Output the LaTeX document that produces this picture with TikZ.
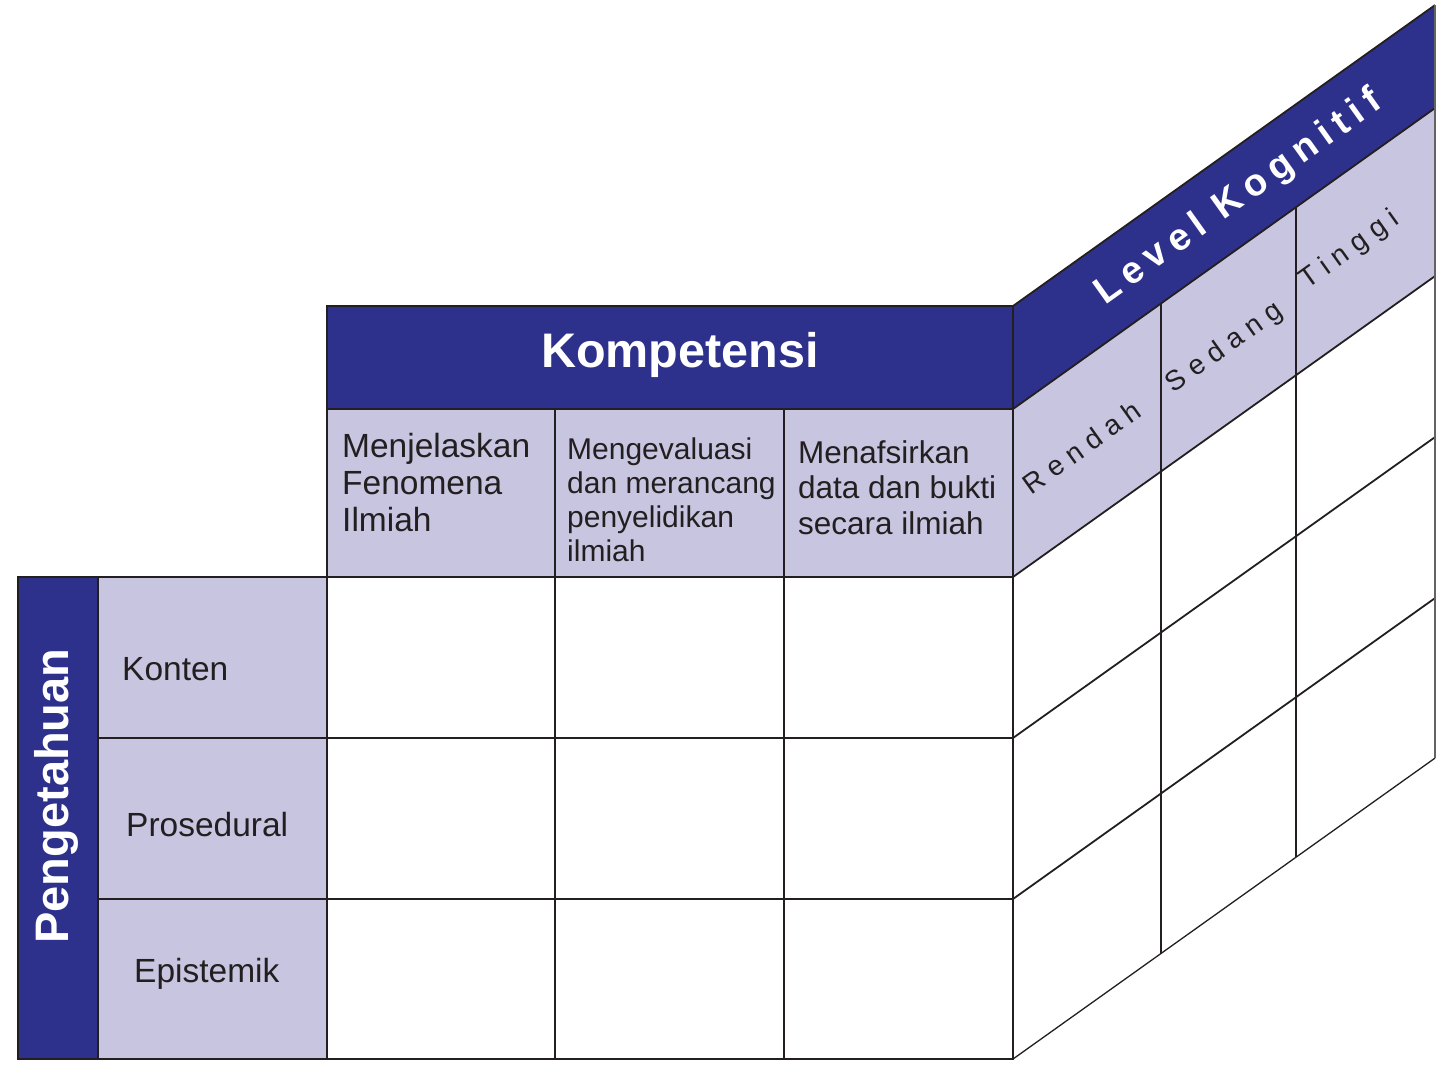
\documentclass[tikz,border=0pt]{standalone}
\usepackage{fontspec}
\setmainfont{Liberation Sans}
\newfontfamily\wideface[LetterSpace=20]{Liberation Sans}
\newfontfamily\wideslim[LetterSpace=28]{Liberation Sans}
\definecolor{navy}{RGB}{45,49,139}
\definecolor{lav}{RGB}{199,197,224}
\definecolor{ink}{RGB}{35,31,32}
\tikzset{
  grid/.style={draw=ink, line width=1.8pt},
  title/.style={text=white, font=\fontsize{48.5}{52}\selectfont\bfseries, inner sep=0pt},
  side/.style={text=white, font=\fontsize{47}{50}\selectfont\bfseries, inner sep=0pt, rotate=90},
  % multi-line headers are placed by the baseline of their last line
  colA/.style={anchor=base west, align=left, inner sep=0pt, text=ink, font=\fontsize{33.5}{37}\selectfont},
  colB/.style={anchor=base west, align=left, inner sep=0pt, text=ink, font=\fontsize{30}{34}\selectfont},
  colC/.style={anchor=base west, align=left, inner sep=0pt, text=ink, font=\fontsize{31.5}{35.5}\selectfont},
  rowlab/.style={anchor=base west, inner sep=0pt, text=ink, font=\fontsize{33.5}{37}\selectfont},
  levtitle/.style={text=white, inner sep=0pt, rotate=35.5, font=\fontsize{38}{40}\selectfont\wideface\bfseries},
  levlab/.style={text=ink, inner sep=0pt, rotate=35.5, font=\fontsize{28}{30}\selectfont\wideslim},
}
\begin{document}
\begin{tikzpicture}[x=1pt, y=-1pt]
\useasboundingbox (0,0) rectangle (1452,1082);

% front face: header bands
\fill[navy] (327,306) rectangle (1013,409);
\fill[lav] (327,409) rectangle (1013,577);
% left side: knowledge bar and row labels
\fill[navy] (18,577) rectangle (98,1059);
\fill[lav] (98,577) rectangle (327,1059);

% oblique side face
\fill[navy] (1013,306) -- (1435,5.1) -- (1435,108.1) -- (1013,409) -- cycle;
\fill[lav] (1013,409) -- (1435,108.1) -- (1435,276.1) -- (1013,577) -- cycle;

% front grid
\draw[grid] (327,306) rectangle (1013,1059);
\draw[grid] (18,577) rectangle (327,1059);
\draw[grid] (98,577) -- (98,1059);
\draw[grid] (327,409) -- (1013,409);
\foreach \y in {577,738,899} \draw[grid] (98,\y) -- (1013,\y);
\foreach \x in {555,784} \draw[grid] (\x,409) -- (\x,1059);

% oblique grid
\draw[grid] (1013,306) -- (1435,5.1);
\draw[grid] (1013,409) -- (1435,108.1);
\draw[grid] (1013,577) -- (1435,276.1);
\draw[grid] (1013,738) -- (1435,437.1);
\draw[grid] (1013,899) -- (1435,598.1);
\draw[grid, line width=1.3pt] (1013,1059) -- (1435,758.1);
\draw[grid] (1161,303.5) -- (1161,953.5);
\draw[grid] (1296,207.2) -- (1296,857.2);
\draw[draw=ink!70, line width=1.8pt] (1435,5.1) -- (1435,758.1);

% texts
\node[title] (komp) at (680,355) {Kompetensi};
\node[colA] (c1) at (342,531) {Menjelaskan\\Fenomena\\Ilmiah};
\node[colB] (c2) at (567,561) {Mengevaluasi\\dan merancang\\penyelidikan\\ilmiah};
\node[colC] (c3) at (798,534) {Menafsirkan\\data dan bukti\\secara ilmiah};

\node[side] (peng) at (56,796) {Pengetahuan};
\node[rowlab] (r1) at (122,680) {Konten};
\node[rowlab] (r2) at (126,836) {Prosedural};
\node[rowlab] (r3) at (134,982) {Epistemik};

\node[levtitle] (lev) at (1239,198) {Level Kognitif};
\node[levlab] (l1) at (1082,447) {Rendah};
\node[levlab] (l2) at (1225,348) {Sedang};
\node[levlab] (l3) at (1350,250) {Tinggi};
\end{tikzpicture}
\end{document}
